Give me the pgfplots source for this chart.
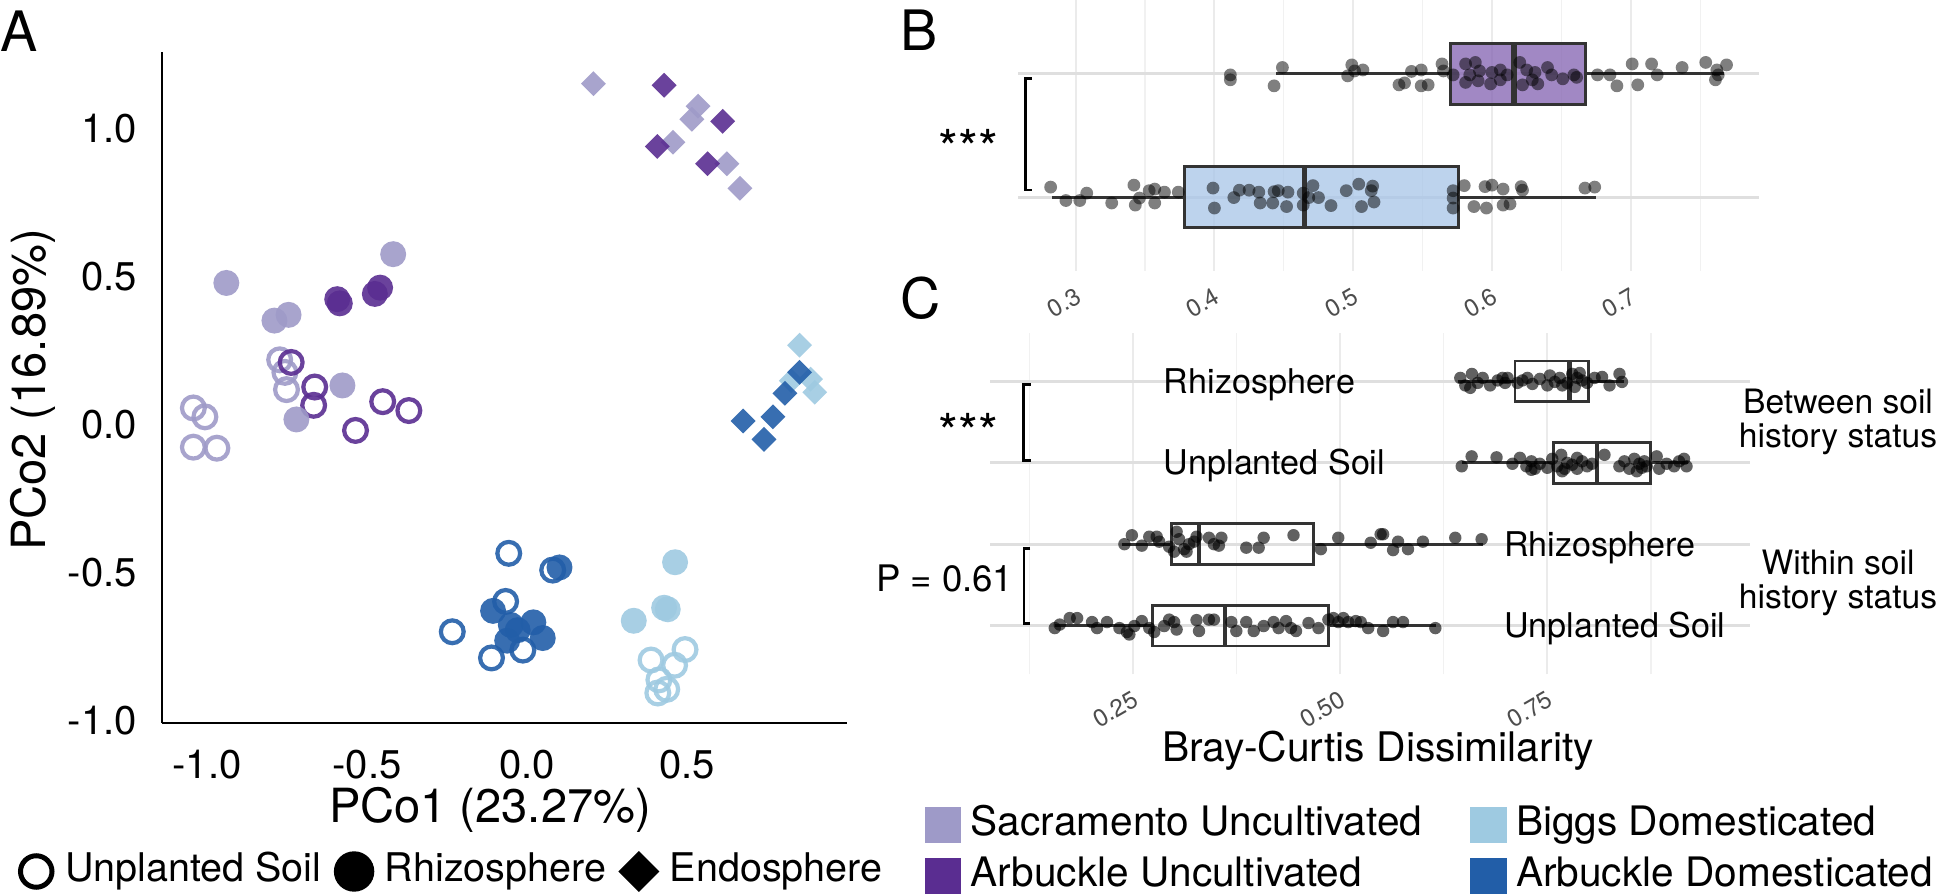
\documentclass[border=0pt]{standalone}
\usepackage{fontspec}
\setmainfont{TeX Gyre Heros}
\usepackage{pgfplots}
\pgfplotsset{compat=1.18}
\usepgfplotslibrary{statistics}
\newcommand\fs[1]{\fontsize{#1}{#1}\selectfont}
\definecolor{SU}{HTML}{9E9AC8}
\definecolor{AU}{HTML}{5A2D91}
\definecolor{BD}{HTML}{9ECAE1}
\definecolor{AD}{HTML}{225EA8}
\definecolor{gridc}{HTML}{EBEBEB}
\definecolor{boxc}{HTML}{333333}
\definecolor{tickc}{HTML}{4D4D4D}
\definecolor{purfill}{HTML}{8767B3}
\definecolor{blufill}{HTML}{AAC6E8}
\begin{document}
\begin{tikzpicture}
\path[use as bounding box] (0,0) rectangle (193.8mm,89.5mm);
% ---------------- Panel A ----------------
\begin{axis}[
  at={(16.2mm,17.2mm)}, anchor=south west, scale only axis,
  width=68.5mm, height=67.1mm,
  xmin=-1.1405, xmax=0.9995, ymin=-1.0078, ymax=1.259,
  axis x line*=bottom, axis y line*=left,
  axis line style={line width=0.85pt, -},
  major tick length=0pt,
  xtick={-1,-0.5,0,0.5}, xticklabels={-1.0,-0.5,0.0,0.5},
  ytick={-1,-0.5,0,0.5,1}, yticklabels={-1.0,-0.5,0.0,0.5,1.0},
  tick label style={font=\fs{11.4pt}},
  xticklabel style={anchor=north, inner sep=0pt, yshift=-2.6mm},
  yticklabel style={anchor=east, inner sep=0pt, xshift=-2.46mm},
  legend style={at={(axis description cs:-0.2102,-0.2213)}, anchor=west,
    draw=none, fill=none, inner sep=0pt, outer sep=0pt, legend columns=3,
    font=\fs{11.24pt}, nodes={inner sep=0pt, text height=0.72em, text depth=0.21em},
    cells={anchor=base west},
    /tikz/every odd column/.append style={column sep=1.06mm},
    /tikz/every even column/.append style={column sep=1.25mm}},
]
% unplanted soil (open circles)
\addplot[only marks, mark=o, mark size=1.14mm, draw=SU, mark options={line width=1.2pt, draw opacity=0.9}, forget plot] coordinates {
(-1.0425,0.0565) (-1.0065,0.0265) (-1.0425,-0.0760) (-0.9690,-0.0795) (-0.7729,0.2191) (-0.7565,0.1767) (-0.7516,0.1184)};
\addplot[only marks, mark=o, mark size=1.14mm, draw=AU, mark options={line width=1.2pt, draw opacity=0.9}, forget plot] coordinates {
(-0.7369,0.2102) (-0.6634,0.1272) (-0.6667,0.0654) (-0.5359,-0.0194) (-0.4510,0.0777) (-0.3693,0.0477)};
\addplot[only marks, mark=o, mark size=1.14mm, draw=BD, mark options={line width=1.2pt, draw opacity=0.9}, forget plot] coordinates {
(0.4935,-0.7597) (0.4608,-0.8127) (0.3873,-0.7951) (0.4118,-0.8622) (0.4363,-0.8940) (0.4085,-0.9064)};
% rhizosphere (filled circles)
\addplot[only marks, mark=*, mark size=1.3mm, color=SU, mark options={draw opacity=0, fill opacity=0.9}, forget plot] coordinates {
(-0.9395,0.4788) (-0.4183,0.5760) (-0.7892,0.3516) (-0.7451,0.3710) (-0.5768,0.1325) (-0.7206,0.0177)};
\addplot[only marks, mark=*, mark size=1.3mm, color=AU, mark options={draw opacity=0, fill opacity=0.9}, forget plot] coordinates {
(-0.5931,0.4240) (-0.5850,0.4099) (-0.4755,0.4417) (-0.4592,0.4629)};
\addplot[only marks, mark=*, mark size=1.3mm, color=BD, mark options={draw opacity=0, fill opacity=0.9}, forget plot] coordinates {
(0.4624,-0.4647) (0.4281,-0.6184) (0.4395,-0.6237) (0.3333,-0.6625)};
\addplot[only marks, mark=*, mark size=1.3mm, color=AD, mark options={draw opacity=0, fill opacity=0.9}, forget plot] coordinates {
(0.1013,-0.4823) (-0.1062,-0.6290) (-0.0507,-0.6767) (0.0196,-0.6678) (0.0490,-0.7208) (-0.0621,-0.7297) (-0.0294,-0.6943)};
\addplot[only marks, mark=o, mark size=1.14mm, draw=AD, mark options={line width=1.2pt, draw opacity=0.9}, forget plot] coordinates {
(-0.0572,-0.4346) (0.0801,-0.4912) (-0.0670,-0.5972) (-0.2337,-0.6996) (-0.1111,-0.7880) (-0.0131,-0.7615)};
% endosphere (diamonds)
\addplot[only marks, mark=square*, mark size=0.88mm, color=SU, mark options={rotate=45, draw opacity=0, fill opacity=0.9}, forget plot] coordinates {
(0.2075,1.1519) (0.5343,1.0760) (0.5147,1.0318) (0.4559,0.9541) (0.6242,0.8816) (0.6650,0.7986)};
\addplot[only marks, mark=square*, mark size=0.88mm, color=AU, mark options={rotate=45, draw opacity=0, fill opacity=0.9}, forget plot] coordinates {
(0.4281,1.1466) (0.6111,1.0247) (0.4069,0.9399) (0.5637,0.8816)};
\addplot[only marks, mark=square*, mark size=0.88mm, color=BD, mark options={rotate=45, draw opacity=0, fill opacity=0.9}, forget plot] coordinates {
(0.8513,0.2686) (0.8856,0.1537) (0.8987,0.1095) (0.8252,0.1484)};
\addplot[only marks, mark=square*, mark size=0.88mm, color=AD, mark options={rotate=45, draw opacity=0, fill opacity=0.9}, forget plot] coordinates {
(0.8513,0.1767) (0.8056,0.1060) (0.7680,0.0265) (0.6748,0.0124) (0.7402,-0.0495)};
\addlegendimage{legend image code/.code={\draw[line width=1.42pt] (0mm,1.0mm) circle[radius=1.575mm];}}
\addlegendentry{Unplanted Soil}
\addlegendimage{legend image code/.code={\fill (0mm,1.0mm) circle[radius=1.95mm];}}
\addlegendentry{Rhizosphere}
\addlegendimage{legend image code/.code={\fill (0mm,2.95mm) -- (1.95mm,1.0mm) -- (0mm,-0.95mm) -- (-1.95mm,1.0mm) -- cycle;}}
\addlegendentry{Endosphere}
\end{axis}
% ---------------- Panel B ----------------
\begin{axis}[
  at={(101.8mm,62.4mm)}, anchor=south west, scale only axis,
  width=74.1mm, height=27.1mm,
  xmin=0.2585, xmax=0.7924, ymin=0.4, ymax=2.6,
  axis line style={draw=none}, major tick length=0pt, minor tick length=0pt,
  xtick={0.3,0.4,0.5,0.6,0.7}, xticklabels={0.3,0.4,0.5,0.6,0.7},
  minor xtick={0.35,0.45,0.55,0.65,0.75},
  ytick={1,2}, yticklabels={},
  grid=both,
  major x grid style={color=gridc, line width=0.55pt},
  minor x grid style={color=gridc!70!white, line width=0.35pt},
  major y grid style={color=gridc!95!black, line width=0.85pt},
  xticklabel style={font=\fs{6.9pt}, text=tickc, inner sep=0pt, anchor=east, xshift=0.36mm, yshift=-2.3mm, rotate=30},
]
\addplot[only marks, mark=*, mark size=0.64mm, color=black, mark options={draw opacity=0, fill opacity=0.5}] coordinates {
(0.4115,1.992) (0.4115,1.952) (0.449,2.052) (0.443,1.903) (0.499,2.073) (0.501,2.024) (0.496,1.984) (0.507,2.032) (0.542,2.020) (0.549,2.032) (0.533,1.911) (0.537,1.927) (0.549,1.903) (0.554,1.911) (0.564,2.081) (0.565,2.024) (0.572,1.992) (0.581,2.081) (0.588,2.093) (0.591,2.024) (0.600,2.012) (0.606,2.032) (0.581,1.931) (0.590,1.944) (0.599,1.919) (0.606,1.952) (0.620,2.093) (0.625,2.032) (0.631,2.012) (0.633,1.919) (0.622,1.911) (0.643,1.992) (0.651,1.960) (0.659,1.992) (0.661,1.972) (0.676,1.992) (0.685,1.992) (0.690,1.903) (0.701,2.081) (0.705,1.911) (0.715,2.081) (0.719,1.992) (0.737,2.052) (0.754,2.093) (0.762,2.032) (0.769,2.073) (0.761,1.952) (0.763,1.992) (0.584,1.992) (0.611,1.992) (0.640,2.052) (0.629,1.952)};
\addplot[only marks, mark=*, mark size=0.64mm, color=black, mark options={draw opacity=0, fill opacity=0.5}] coordinates {
(0.282,1.081) (0.293,0.972) (0.303,0.972) (0.308,1.032) (0.326,0.952) (0.342,1.097) (0.343,0.935) (0.346,0.992) (0.353,1.052) (0.357,1.065) (0.357,0.952) (0.364,1.040) (0.374,1.040) (0.399,1.073) (0.400,0.911) (0.414,0.996) (0.418,1.056) (0.425,1.056) (0.432,1.040) (0.433,0.952) (0.443,1.044) (0.442,0.952) (0.446,1.052) (0.452,0.923) (0.453,1.040) (0.464,1.032) (0.464,0.935) (0.471,1.093) (0.468,0.996) (0.475,0.996) (0.484,0.931) (0.495,1.052) (0.504,1.105) (0.506,0.923) (0.513,1.052) (0.515,0.960) (0.514,1.089) (0.572,1.052) (0.572,0.992) (0.572,0.911) (0.580,1.093) (0.587,0.923) (0.595,1.085) (0.596,0.911) (0.600,1.097) (0.608,1.065) (0.608,0.935) (0.613,0.944) (0.621,1.085) (0.622,1.056) (0.667,1.073) (0.674,1.081)};
\addplot[boxplot prepared={lower whisker=0.4444, lower quartile=0.5699, median=0.6158, upper quartile=0.6677, upper whisker=0.7670, draw position=2}, boxplot/box extend=0.5, boxplot/whisker extend=0, boxplot/every median/.style={line width=1.5pt},
  draw=boxc, line width=0.85pt, fill=purfill, fill opacity=0.78] coordinates {};
\addplot[boxplot prepared={lower whisker=0.2832, lower quartile=0.3781, median=0.4649, upper quartile=0.5760, upper whisker=0.6746, draw position=1}, boxplot/box extend=0.5, boxplot/whisker extend=0, boxplot/every median/.style={line width=1.5pt},
  draw=boxc, line width=0.85pt, fill=blufill, fill opacity=0.78] coordinates {};
\end{axis}
% ---------------- Panel C ----------------
\begin{axis}[
  at={(99.0mm,22.06mm)}, anchor=south west, scale only axis,
  width=76.0mm, height=34.18mm,
  xmin=0.0777, xmax=0.9945, ymin=0.4, ymax=4.6,
  axis line style={draw=none}, major tick length=0pt, minor tick length=0pt,
  xtick={0.25,0.5,0.75}, xticklabels={0.25,0.50,0.75},
  minor xtick={0.125,0.375,0.625,0.875},
  ytick={1,2,3,4}, yticklabels={},
  grid=both,
  major x grid style={color=gridc, line width=0.55pt},
  minor x grid style={color=gridc!70!white, line width=0.35pt},
  major y grid style={color=gridc!95!black, line width=0.85pt},
  xticklabel style={font=\fs{6.9pt}, text=tickc, inner sep=0pt, anchor=east, xshift=0.36mm, yshift=-2.3mm, rotate=30},
  legend style={at={(axis description cs:-0.08553,-0.3874)}, anchor=north west,
    draw=none, fill=none, inner sep=0pt, outer sep=0pt, legend columns=2,
    font=\fs{11.55pt}, nodes={inner sep=0pt, text height=0.72em, text depth=0.2em},
    cells={anchor=base west}, row sep=1.47mm,
    /tikz/every odd column/.append style={column sep=0.95mm},
    /tikz/every even column/.append style={column sep=4.8mm}},
]
\addplot[only marks, mark=*, mark size=0.62mm, color=black, mark options={draw opacity=0, fill opacity=0.62}, forget plot] coordinates {
(0.645,4.043) (0.651,3.951) (0.659,4.092) (0.666,3.982) (0.672,4.043) (0.681,3.951) (0.690,4.012) (0.699,3.982) (0.702,4.043) (0.714,3.982) (0.720,4.012) (0.726,4.043) (0.732,3.969) (0.741,4.031) (0.750,3.951) (0.753,4.073) (0.759,3.994) (0.765,4.043) (0.774,3.982) (0.780,4.092) (0.783,3.933) (0.786,4.043) (0.792,4.012) (0.798,3.982) (0.807,4.043) (0.816,4.055) (0.825,3.951) (0.837,4.092) (0.840,3.994) (0.657,3.921) (0.696,4.043) (0.768,3.951) (0.789,4.104)};
\addplot[only marks, mark=*, mark size=0.62mm, color=black, mark options={draw opacity=0, fill opacity=0.62}, forget plot] coordinates {
(0.6467,2.957) (0.6587,3.079) (0.6887,3.067) (0.7079,2.988) (0.7169,3.061) (0.7247,2.957) (0.7307,3.018) (0.7349,2.927) (0.7409,2.988) (0.7499,2.939) (0.7559,3.049) (0.7619,2.957) (0.7667,3.098) (0.7709,2.927) (0.7739,3.000) (0.7799,2.976) (0.7859,2.927) (0.7919,3.018) (0.7979,2.957) (0.8039,2.988) (0.8189,3.098) (0.8369,2.957) (0.8429,3.018) (0.8489,2.927) (0.8549,3.049) (0.8609,2.988) (0.8639,2.939) (0.8669,3.018) (0.8699,2.957) (0.8819,3.079) (0.8849,2.927) (0.8939,2.988) (0.9029,2.957) (0.9089,3.018) (0.9149,3.049) (0.9179,2.957) (0.7307,2.914) (0.7679,2.896) (0.7859,3.061) (0.8579,2.896)};
\addplot[only marks, mark=*, mark size=0.62mm, color=black, mark options={draw opacity=0, fill opacity=0.62}, forget plot] coordinates {
(0.2398,2.000) (0.2488,2.110) (0.2608,1.982) (0.2698,2.092) (0.2788,2.092) (0.2818,2.031) (0.2938,1.969) (0.2998,1.908) (0.3058,2.061) (0.3118,1.939) (0.3178,2.000) (0.3238,2.031) (0.3268,2.092) (0.3418,2.079) (0.3478,2.000) (0.3538,1.982) (0.3568,2.079) (0.3868,1.957) (0.4018,1.957) (0.4078,2.079) (0.4438,2.110) (0.4768,1.939) (0.4978,2.079) (0.5369,2.018) (0.5489,2.122) (0.5519,2.122) (0.5639,1.927) (0.5699,2.031) (0.5819,1.939) (0.5999,2.031) (0.6389,2.079) (0.6707,2.061) (0.3028,2.153) (0.3148,1.908)};
\addplot[only marks, mark=*, mark size=0.62mm, color=black, mark options={draw opacity=0, fill opacity=0.62}, forget plot] coordinates {
(0.1558,0.969) (0.1618,1.012) (0.1738,1.092) (0.1828,1.092) (0.2008,1.043) (0.2068,0.969) (0.2188,1.043) (0.2338,0.969) (0.2428,0.921) (0.2518,0.994) (0.2608,1.055) (0.2698,0.969) (0.2758,0.921) (0.2878,0.994) (0.2998,1.043) (0.3028,0.951) (0.3268,1.067) (0.3298,0.933) (0.3418,1.073) (0.3478,1.073) (0.3688,1.043) (0.3748,0.933) (0.3868,1.043) (0.3958,0.933) (0.4078,0.994) (0.4198,1.043) (0.4258,0.969) (0.4348,1.055) (0.4408,0.969) (0.4468,0.933) (0.4619,1.031) (0.4739,0.969) (0.4859,1.073) (0.4919,1.092) (0.4979,1.043) (0.5039,1.092) (0.5099,1.043) (0.5189,1.055) (0.5249,1.043) (0.5339,0.969) (0.5519,0.933) (0.5639,1.043) (0.5759,1.043) (0.6149,0.969) (0.2458,0.890) (0.2938,1.073)};
\addplot[boxplot prepared={lower whisker=0.6419, lower quartile=0.7109, median=0.7769, upper quartile=0.7997, upper whisker=0.8429, draw position=4}, boxplot/box extend=0.5, boxplot/whisker extend=0, boxplot/every median/.style={line width=1.3pt}, draw=boxc, line width=0.8pt, forget plot] coordinates {};
\addplot[boxplot prepared={lower whisker=0.6467, lower quartile=0.7571, median=0.8099, upper quartile=0.8741, upper whisker=0.9197, draw position=3}, boxplot/box extend=0.5, boxplot/whisker extend=0, boxplot/every median/.style={line width=1.3pt}, draw=boxc, line width=0.8pt, forget plot] coordinates {};
\addplot[boxplot prepared={lower whisker=0.2368, lower quartile=0.2968, median=0.3298, upper quartile=0.4679, upper whisker=0.6719, draw position=2}, boxplot/box extend=0.5, boxplot/whisker extend=0, boxplot/every median/.style={line width=1.3pt}, draw=boxc, line width=0.8pt, forget plot] coordinates {};
\addplot[boxplot prepared={lower whisker=0.1558, lower quartile=0.2740, median=0.3610, upper quartile=0.4859, upper whisker=0.6161, draw position=1}, boxplot/box extend=0.5, boxplot/whisker extend=0, boxplot/every median/.style={line width=1.3pt}, draw=boxc, line width=0.8pt, forget plot] coordinates {};
\addlegendimage{legend image code/.code={\fill[SU] (0mm,-0.7mm) rectangle (3.5mm,2.8mm);}}
\addlegendentry{Sacramento Uncultivated}
\addlegendimage{legend image code/.code={\fill[BD] (0mm,-0.7mm) rectangle (3.5mm,2.8mm);}}
\addlegendentry{Biggs Domesticated}
\addlegendimage{legend image code/.code={\fill[AU] (0mm,-0.7mm) rectangle (3.5mm,2.8mm);}}
\addlegendentry{Arbuckle Uncultivated}
\addlegendimage{legend image code/.code={\fill[AD] (0mm,-0.7mm) rectangle (3.5mm,2.8mm);}}
\addlegendentry{Arbuckle Domesticated}
\end{axis}
% ---------------- annotations ----------------
\node[anchor=base west, inner sep=0pt] at (0mm,84.3mm) {\fs{15.85pt}A};
\node[anchor=base west, inner sep=0pt] at (90.0mm,84.4mm) {\fs{15.85pt}B};
\node[anchor=base west, inner sep=0pt] at (90.0mm,57.6mm) {\fs{15.85pt}C};
\node[anchor=base, inner sep=0pt] at (49.0mm,7.3mm) {\fs{13.4pt}PCo1 (23.27\%)};
\node[anchor=base, inner sep=0pt, rotate=90] at (4.5mm,50.5mm) {\fs{13.4pt}PCo2 (16.89\%)};
\node[anchor=base, inner sep=0pt] at (137.8mm,13.4mm) {\fs{11.6pt}Bray-Curtis Dissimilarity};
\draw[line width=0.77pt] (103.17mm,81.67mm) -- (102.57mm,81.67mm) -- (102.57mm,70.5mm) -- (103.17mm,70.5mm);
\draw[line width=0.77pt] (103.07mm,51.04mm) -- (102.37mm,51.04mm) -- (102.37mm,43.48mm) -- (103.07mm,43.48mm);
\draw[line width=0.77pt] (103.0mm,34.67mm) -- (102.4mm,34.67mm) -- (102.4mm,27.17mm) -- (103.0mm,27.17mm);
\node[anchor=base, inner sep=0pt] at (96.85mm,72.8mm) {\fs{14.5pt}***};
\node[anchor=base, inner sep=0pt] at (96.85mm,44.4mm) {\fs{14.5pt}***};
\node[anchor=base east, inner sep=0pt] at (101.4mm,30.36mm) {\fs{10.4pt}P = 0.61};
\node[anchor=base west, inner sep=0pt] at (116.32mm,50.14mm) {\fs{9.7pt}Rhizosphere};
\node[anchor=base west, inner sep=0pt] at (116.32mm,42.0mm) {\fs{9.7pt}Unplanted Soil};
\node[anchor=base west, inner sep=0pt] at (150.35mm,33.86mm) {\fs{9.7pt}Rhizosphere};
\node[anchor=base west, inner sep=0pt] at (150.35mm,25.72mm) {\fs{9.7pt}Unplanted Soil};
\node[anchor=base, inner sep=0pt] at (183.8mm,48.17mm) {\fs{9.56pt}Between soil};
\node[anchor=base, inner sep=0pt] at (183.8mm,44.77mm) {\fs{9.56pt}history status};
\node[anchor=base, inner sep=0pt] at (183.8mm,32.0mm) {\fs{9.56pt}Within soil};
\node[anchor=base, inner sep=0pt] at (183.8mm,28.6mm) {\fs{9.56pt}history status};
\end{tikzpicture}
\end{document}
